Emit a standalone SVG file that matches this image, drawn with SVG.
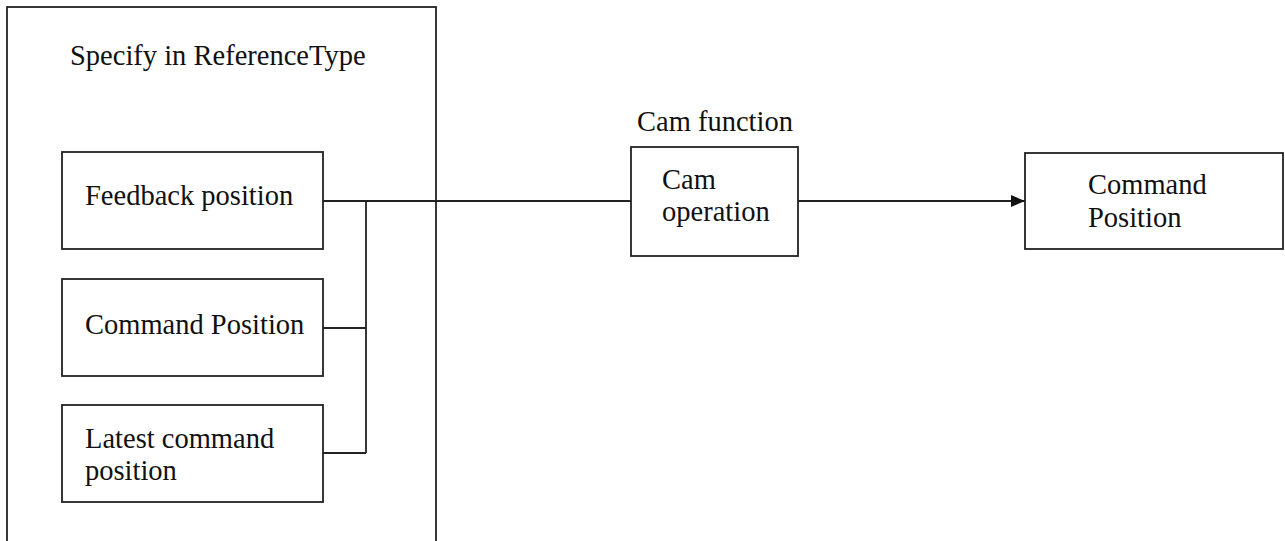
<svg xmlns="http://www.w3.org/2000/svg" width="1285" height="541" viewBox="0 0 1285 541">
<style>
.box{fill:#fff;stroke:#222;stroke-width:1.8}
.ln{fill:none;stroke:#222;stroke-width:1.8}
text{font-family:"Liberation Serif","DejaVu Serif",serif;font-size:28.5px;fill:#111}
</style>
<defs>
<marker id="arr" markerWidth="14" markerHeight="12" refX="14" refY="6" orient="auto" markerUnits="userSpaceOnUse">
<path d="M0,0 L14,6 L0,12 Z" fill="#111"/>
</marker>
</defs>
<rect width="1285" height="541" fill="#fff"/>
<g id="group-reference">
<rect class="box" x="7" y="7" width="429" height="545"/>
<text x="70" y="65">Specify in ReferenceType</text>
</g>
<g id="node-feedback">
<rect class="box" x="62" y="152" width="261" height="97"/>
<text x="85" y="205">Feedback position</text>
</g>
<g id="node-command-position">
<rect class="box" x="62" y="279" width="261" height="97"/>
<text x="85" y="334">Command Position</text>
</g>
<g id="node-latest">
<rect class="box" x="62" y="405" width="261" height="97"/>
<text x="85" y="448">Latest command</text>
<text x="85" y="480">position</text>
</g>
<g id="node-cam">
<text x="637" y="131">Cam function</text>
<rect class="box" x="631" y="147" width="167" height="109"/>
<text x="662" y="189">Cam</text>
<text x="662" y="221">operation</text>
</g>
<g id="node-output">
<rect class="box" x="1025" y="153" width="258" height="96"/>
<text x="1088" y="194">Command</text>
<text x="1088" y="227">Position</text>
</g>
<g id="connectors">
<path class="ln" d="M323,201 H631"/>
<path class="ln" d="M323,328 H366 M323,453 H366 M366,201 V453"/>
<path class="ln" d="M798,201 H1025" marker-end="url(#arr)"/>
</g>
</svg>
